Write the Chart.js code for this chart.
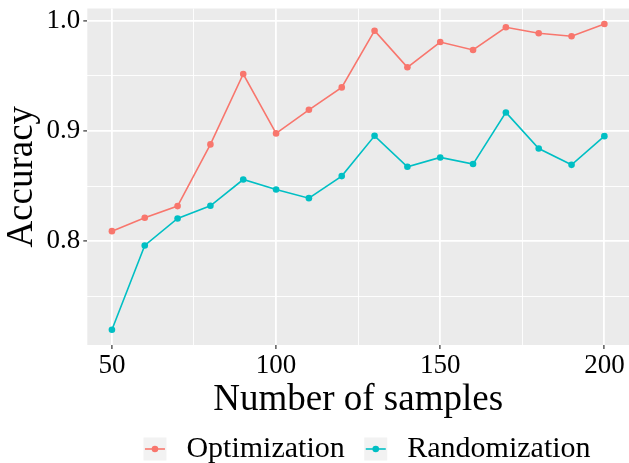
<!DOCTYPE html>
<html>
<head>
<meta charset="utf-8">
<script src="https://cdn.jsdelivr.net/npm/chart.js@4.4.1/dist/chart.umd.min.js"></script>
<style>
  html, body { margin: 0; padding: 0; background: #ffffff; }
  #wrap { width: 629px; height: 463px; }
</style>
</head>
<body>
<div id="wrap"><canvas id="c" width="629" height="463"></canvas></div>
<script>
// ---- data ----
const samples = [50, 60, 70, 80, 90, 100, 110, 120, 130, 140, 150, 160, 170, 180, 190, 200];
const optimization = [0.8092, 0.8213, 0.8319, 0.8878, 0.9516, 0.8978, 0.9192, 0.9395, 0.9909, 0.9577, 0.9806, 0.9734, 0.9940, 0.9885, 0.9858, 0.9970];
const randomization = [0.7198, 0.7962, 0.8207, 0.8322, 0.8560, 0.8470, 0.8391, 0.8591, 0.8956, 0.8675, 0.8760, 0.8700, 0.9168, 0.8841, 0.8693, 0.8953];
const seriesNames = ['Optimization', 'Randomization'];
const xTicks = [50, 75, 100, 125, 150, 175, 200];
const xMajor = [50, 100, 150, 200];
const yTicks = [0.75, 0.80, 0.85, 0.90, 0.95, 1.00];
const yMajor = [0.80, 0.90, 1.00];
const xTitle = 'Number of samples';
const yTitle = 'Accuracy';

const colors = ['#F8766D', '#00BFC4'];
const FONT = "'Liberation Serif', 'Times New Roman', serif";

const isMajor = (list, v) => list.some(m => Math.abs(m - v) < 1e-9);

const panelBg = {
  id: 'panelBg',
  beforeDraw(chart) {
    const { ctx, chartArea: a } = chart;
    ctx.save();
    ctx.fillStyle = '#EBEBEB';
    ctx.fillRect(a.left, a.top, a.right - a.left, a.bottom - a.top);
    ctx.restore();
  }
};

const ggLegend = {
  id: 'ggLegend',
  afterDraw(chart) {
    const ctx = chart.ctx;
    const keySize = 23, keyGap = 20, itemGap = 19.5, centerX = 367, cy = 449;
    ctx.save();
    ctx.font = "30px " + FONT;
    const widths = chart.data.datasets.map(d => ctx.measureText(d.label).width);
    let total = 0;
    widths.forEach((w, i) => { total += keySize + keyGap + w + (i < widths.length - 1 ? itemGap : 0); });
    let x = centerX - total / 2;
    chart.data.datasets.forEach((d, i) => {
      ctx.fillStyle = '#F2F2F2';
      ctx.fillRect(x, cy - keySize / 2, keySize, keySize);
      ctx.strokeStyle = d.borderColor;
      ctx.lineWidth = 1.6;
      ctx.beginPath();
      ctx.moveTo(x + 1.5, cy);
      ctx.lineTo(x + keySize - 1.5, cy);
      ctx.stroke();
      ctx.fillStyle = d.backgroundColor;
      ctx.beginPath();
      ctx.arc(x + keySize / 2, cy, 3.3, 0, Math.PI * 2);
      ctx.fill();
      ctx.fillStyle = '#000000';
      ctx.textBaseline = 'middle';
      ctx.textAlign = 'left';
      ctx.fillText(d.label, x + keySize + keyGap, cy);
      x += keySize + keyGap + widths[i] + itemGap;
    });
    ctx.restore();
  }
};

const makeData = (ys) => samples.map((s, i) => ({ x: s, y: ys[i] }));

new Chart(document.getElementById('c'), {
  type: 'line',
  data: {
    datasets: [
      { label: seriesNames[0], data: makeData(optimization), borderColor: colors[0], backgroundColor: colors[0],
        borderWidth: 1.6, pointRadius: 3.3, pointBorderWidth: 0, pointHoverRadius: 3.3, tension: 0 },
      { label: seriesNames[1], data: makeData(randomization), borderColor: colors[1], backgroundColor: colors[1],
        borderWidth: 1.6, pointRadius: 3.3, pointBorderWidth: 0, pointHoverRadius: 3.3, tension: 0 }
    ]
  },
  options: {
    responsive: false,
    animation: false,
    events: [],
    devicePixelRatio: 1,
    layout: { autoPadding: false, padding: { top: 8.5, left: 0, right: 0, bottom: 0 } },
    plugins: { legend: { display: false }, tooltip: { enabled: false } },
    scales: {
      x: {
        type: 'linear',
        min: 42.5, max: 207.5,
        afterBuildTicks(scale) { scale.ticks = xTicks.map(v => ({ value: v })); },
        afterFit(scale) { scale.height = 118; scale.paddingLeft = 0; scale.paddingRight = 0; },
        border: { display: false },
        grid: {
          color: '#FFFFFF',
          lineWidth: (c) => isMajor(xMajor, c.tick.value) ? 1.8 : 0.9,
          tickColor: (c) => isMajor(xMajor, c.tick.value) ? '#333333' : 'rgba(0,0,0,0)',
          tickWidth: 1.2,
          tickLength: 4,
          drawTicks: true
        },
        ticks: {
          autoSkip: false, maxRotation: 0, padding: 1,
          color: '#000000',
          font: { family: FONT, size: 27 },
          callback: (v) => isMajor(xMajor, v) ? String(v) : ''
        },
        title: {
          display: true, text: xTitle, color: '#000000',
          font: { family: FONT, size: 37, lineHeight: 1.2 },
          padding: { top: 0, bottom: 41 }
        }
      },
      y: {
        type: 'linear',
        min: 0.706, max: 1.011,
        afterBuildTicks(scale) { scale.ticks = yTicks.map(v => ({ value: v })); },
        afterFit(scale) { scale.width = 87.3; scale.paddingTop = 0; scale.paddingBottom = 0; },
        border: { display: false },
        grid: {
          color: '#FFFFFF',
          lineWidth: (c) => isMajor(yMajor, c.tick.value) ? 1.8 : 0.9,
          tickColor: (c) => isMajor(yMajor, c.tick.value) ? '#333333' : 'rgba(0,0,0,0)',
          tickWidth: 1.2,
          tickLength: 4,
          drawTicks: true
        },
        ticks: {
          autoSkip: false, padding: 3,
          color: '#000000',
          font: { family: FONT, size: 27 },
          callback: (v) => isMajor(yMajor, v) ? v.toFixed(1) : ''
        },
        title: {
          display: true, text: yTitle, color: '#000000',
          font: { family: FONT, size: 37, lineHeight: 1.2 },
          padding: { top: 0, bottom: 0 }
        }
      }
    }
  },
  plugins: [panelBg, ggLegend]
});
</script>
</body>
</html>
